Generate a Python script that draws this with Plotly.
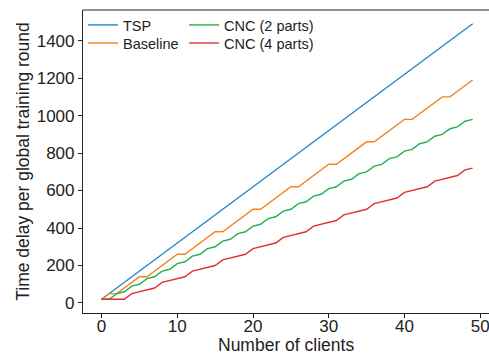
import plotly.graph_objects as go

clients = list(range(50))

tsp = [20, 50, 80, 110, 140, 170, 200, 230, 260, 290,
       320, 350, 380, 410, 440, 470, 500, 530, 560, 590,
       620, 650, 680, 710, 740, 770, 800, 830, 860, 890,
       920, 950, 980, 1010, 1040, 1070, 1100, 1130, 1160, 1190,
       1220, 1250, 1280, 1310, 1340, 1370, 1400, 1430, 1460, 1490]

baseline = [20, 50, 50, 80, 110, 140, 140, 170, 200, 230,
            260, 260, 290, 320, 350, 380, 380, 410, 440, 470,
            500, 500, 530, 560, 590, 620, 620, 650, 680, 710,
            740, 740, 770, 800, 830, 860, 860, 890, 920, 950,
            980, 980, 1010, 1040, 1070, 1100, 1100, 1130, 1160, 1190]

cnc2 = [20, 20, 50, 60, 90, 100, 130, 140, 170, 180,
        210, 220, 250, 260, 290, 300, 330, 340, 370, 380,
        410, 420, 450, 460, 490, 500, 530, 540, 570, 580,
        610, 620, 650, 660, 690, 700, 730, 740, 770, 780,
        810, 820, 850, 860, 890, 900, 930, 940, 970, 980]

cnc4 = [20, 20, 20, 20, 50, 60, 70, 80, 110, 120,
        130, 140, 170, 180, 190, 200, 230, 240, 250, 260,
        290, 300, 310, 320, 350, 360, 370, 380, 410, 420,
        430, 440, 470, 480, 490, 500, 530, 540, 550, 560,
        590, 600, 610, 620, 650, 660, 670, 680, 710, 720]

x_ticks = [0, 10, 20, 30, 40, 50]
y_ticks = [0, 200, 400, 600, 800, 1000, 1200, 1400]

series = [
    ("TSP", tsp, "#1f88c8", "legend"),
    ("Baseline", baseline, "#f58220", "legend2"),
    ("CNC (2 parts)", cnc2, "#22b24c", "legend3"),
    ("CNC (4 parts)", cnc4, "#e03131", "legend4"),
]

FONT = "Liberation Sans, Arial, Helvetica, sans-serif"

fig = go.Figure()
for name, vals, color, lg in series:
    fig.add_trace(go.Scatter(x=clients, y=vals, mode="lines", name=name,
                             line=dict(color=color, width=1.4), legend=lg,
                             showlegend=True))

axis_common = dict(showline=True, linecolor="#222", linewidth=1.2,
                   ticks="outside", ticklen=4, tickwidth=1.2, tickcolor="#222",
                   showgrid=False, zeroline=False, automargin=False,
                   ticklabeloverflow="allow",
                   tickfont=dict(family=FONT, size=17, color="#222"))


def leg(x, y):
    return dict(x=x, y=y, xanchor="left", yanchor="top",
                bgcolor="rgba(0,0,0,0)", font=dict(family=FONT, size=14.5),
                tracegroupgap=0, visible=True)


fig.update_layout(
    width=489, height=356,
    margin=dict(l=83, r=0, t=10, b=43),
    paper_bgcolor="white", plot_bgcolor="white",
    font=dict(family=FONT, color="#222"),
    showlegend=True,
    xaxis=dict(range=[-2.45, 51.16], tickvals=x_ticks, ticklabelstandoff=-7,
               **axis_common),
    yaxis=dict(range=[-53.5, 1563.5], tickvals=y_ticks,
               title=dict(text="Time delay per global training round", font=dict(family=FONT, size=17.5), standoff=2),
               **axis_common),
    legend=leg(0.0, 1.0033),
    legend2=leg(0.0, 0.9436),
    legend3=leg(0.249, 1.0033),
    legend4=leg(0.249, 0.9436),
    annotations=[dict(text="Number of clients", xref="paper", yref="paper",
                      x=0.5, y=-0.1056, xanchor="center", yanchor="middle",
                      showarrow=False, font=dict(family=FONT, size=17.5, color="#222"))],
    shapes=[dict(type="line", xref="paper", yref="paper", x0=0, x1=1, y0=1, y1=1,
                 line=dict(color="#222", width=1.2))],
)

fig.write_html("out.html", config={"displayModeBar": False},
               post_script="document.body.style.margin='0';document.body.style.overflow='hidden';")
